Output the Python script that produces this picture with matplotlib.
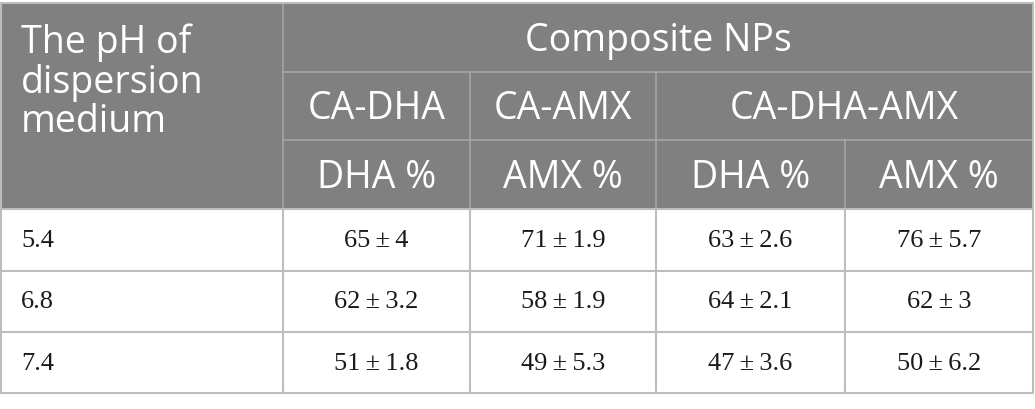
import matplotlib
matplotlib.use("Agg")
import matplotlib.pyplot as plt
from matplotlib.patches import Rectangle

# table content
ph_title = ["The pH of", "dispersion", "medium"]
ph_values = ["5.4", "6.8", "7.4"]
top_header = "Composite NPs"
groups = ["CA-DHA", "CA-AMX", "CA-DHA-AMX"]
sub_headers = ["DHA %", "AMX %", "DHA %", "AMX %"]
means = [[65, 71, 63, 76],
         [62, 58, 64, 62],
         [51, 49, 47, 50]]
sds = [["4", "1.9", "2.6", "5.7"],
       ["3.2", "1.9", "2.1", "3"],
       ["1.8", "5.3", "3.6", "6.2"]]

# geometry in pixels
col_x = [1, 283, 470, 656, 845, 1033]
row_y = [3, 72, 140, 209, 271, 332, 393]
head_col = "#808080"
head_line = "#a6a6a6"
body_line = "#bdbdbd"

fig = plt.figure(figsize=(10.35, 4.09), dpi=100)
ax = fig.add_axes([0, 0, 1, 1])
ax.set_xlim(0, 1035)
ax.set_ylim(409, 0)
ax.axis("off")

# header background
ax.add_patch(Rectangle((col_x[0], row_y[0]), col_x[-1] - col_x[0], row_y[3] - row_y[0],
                       facecolor=head_col, edgecolor="none"))

# header grid lines
ax.plot([col_x[1], col_x[1]], [row_y[0], row_y[3]], color=head_line, lw=1.2)
ax.plot([col_x[1], col_x[-1]], [row_y[1], row_y[1]], color=head_line, lw=1.2)
ax.plot([col_x[1], col_x[-1]], [row_y[2], row_y[2]], color=head_line, lw=1.2)
for x in (col_x[2], col_x[3]):
    ax.plot([x, x], [row_y[1], row_y[3]], color=head_line, lw=1.2)
ax.plot([col_x[4], col_x[4]], [row_y[2], row_y[3]], color=head_line, lw=1.2)

# body grid lines
for y in row_y[3:]:
    ax.plot([col_x[0], col_x[-1]], [y, y], color=body_line, lw=1.5)
for x in col_x:
    ax.plot([x, x], [row_y[3], row_y[-1]], color=body_line, lw=1.5)
# outer border around header
ax.plot([col_x[0], col_x[-1]], [row_y[0], row_y[0]], color=body_line, lw=1.5)
ax.plot([col_x[0], col_x[0]], [row_y[0], row_y[3]], color=body_line, lw=1.5)
ax.plot([col_x[-1], col_x[-1]], [row_y[0], row_y[3]], color=body_line, lw=1.5)

hfont = dict(family="Open Sans", color="white", fontsize=27)
for k, line in enumerate(ph_title):  # baselines ~40 px apart
    ax.text(21, 53 + 39.5 * k, line, ha="left", va="baseline", **hfont)
ax.text((col_x[1] + col_x[-1]) / 2, (row_y[0] + row_y[1]) / 2 + 3, top_header,
        ha="center", va="center", **hfont)
grp_spans = [(col_x[1], col_x[2]), (col_x[2], col_x[3]), (col_x[3], col_x[5])]
for g, (a, b) in zip(groups, grp_spans):
    ax.text((a + b) / 2, (row_y[1] + row_y[2]) / 2 + 3, g, ha="center", va="center", **hfont)
for i, s in enumerate(sub_headers):
    ax.text((col_x[i + 1] + col_x[i + 2]) / 2, (row_y[2] + row_y[3]) / 2 + 3, s,
            ha="center", va="center", **hfont)

bfont = dict(family=["Liberation Serif", "DejaVu Serif"], color="#1a1a1a", fontsize=19)
for r, ph in enumerate(ph_values):
    yc = (row_y[3 + r] + row_y[4 + r]) / 2 + 1
    ax.text(21, yc, ph, ha="left", va="center", **bfont)
    for c in range(4):
        label = f"{means[r][c]}\u2009\u00b1\u2009{sds[r][c]}"
        ax.text((col_x[c + 1] + col_x[c + 2]) / 2, yc, label,
                ha="center", va="center", **bfont)

fig.savefig("out.png", dpi=100, facecolor="white")
